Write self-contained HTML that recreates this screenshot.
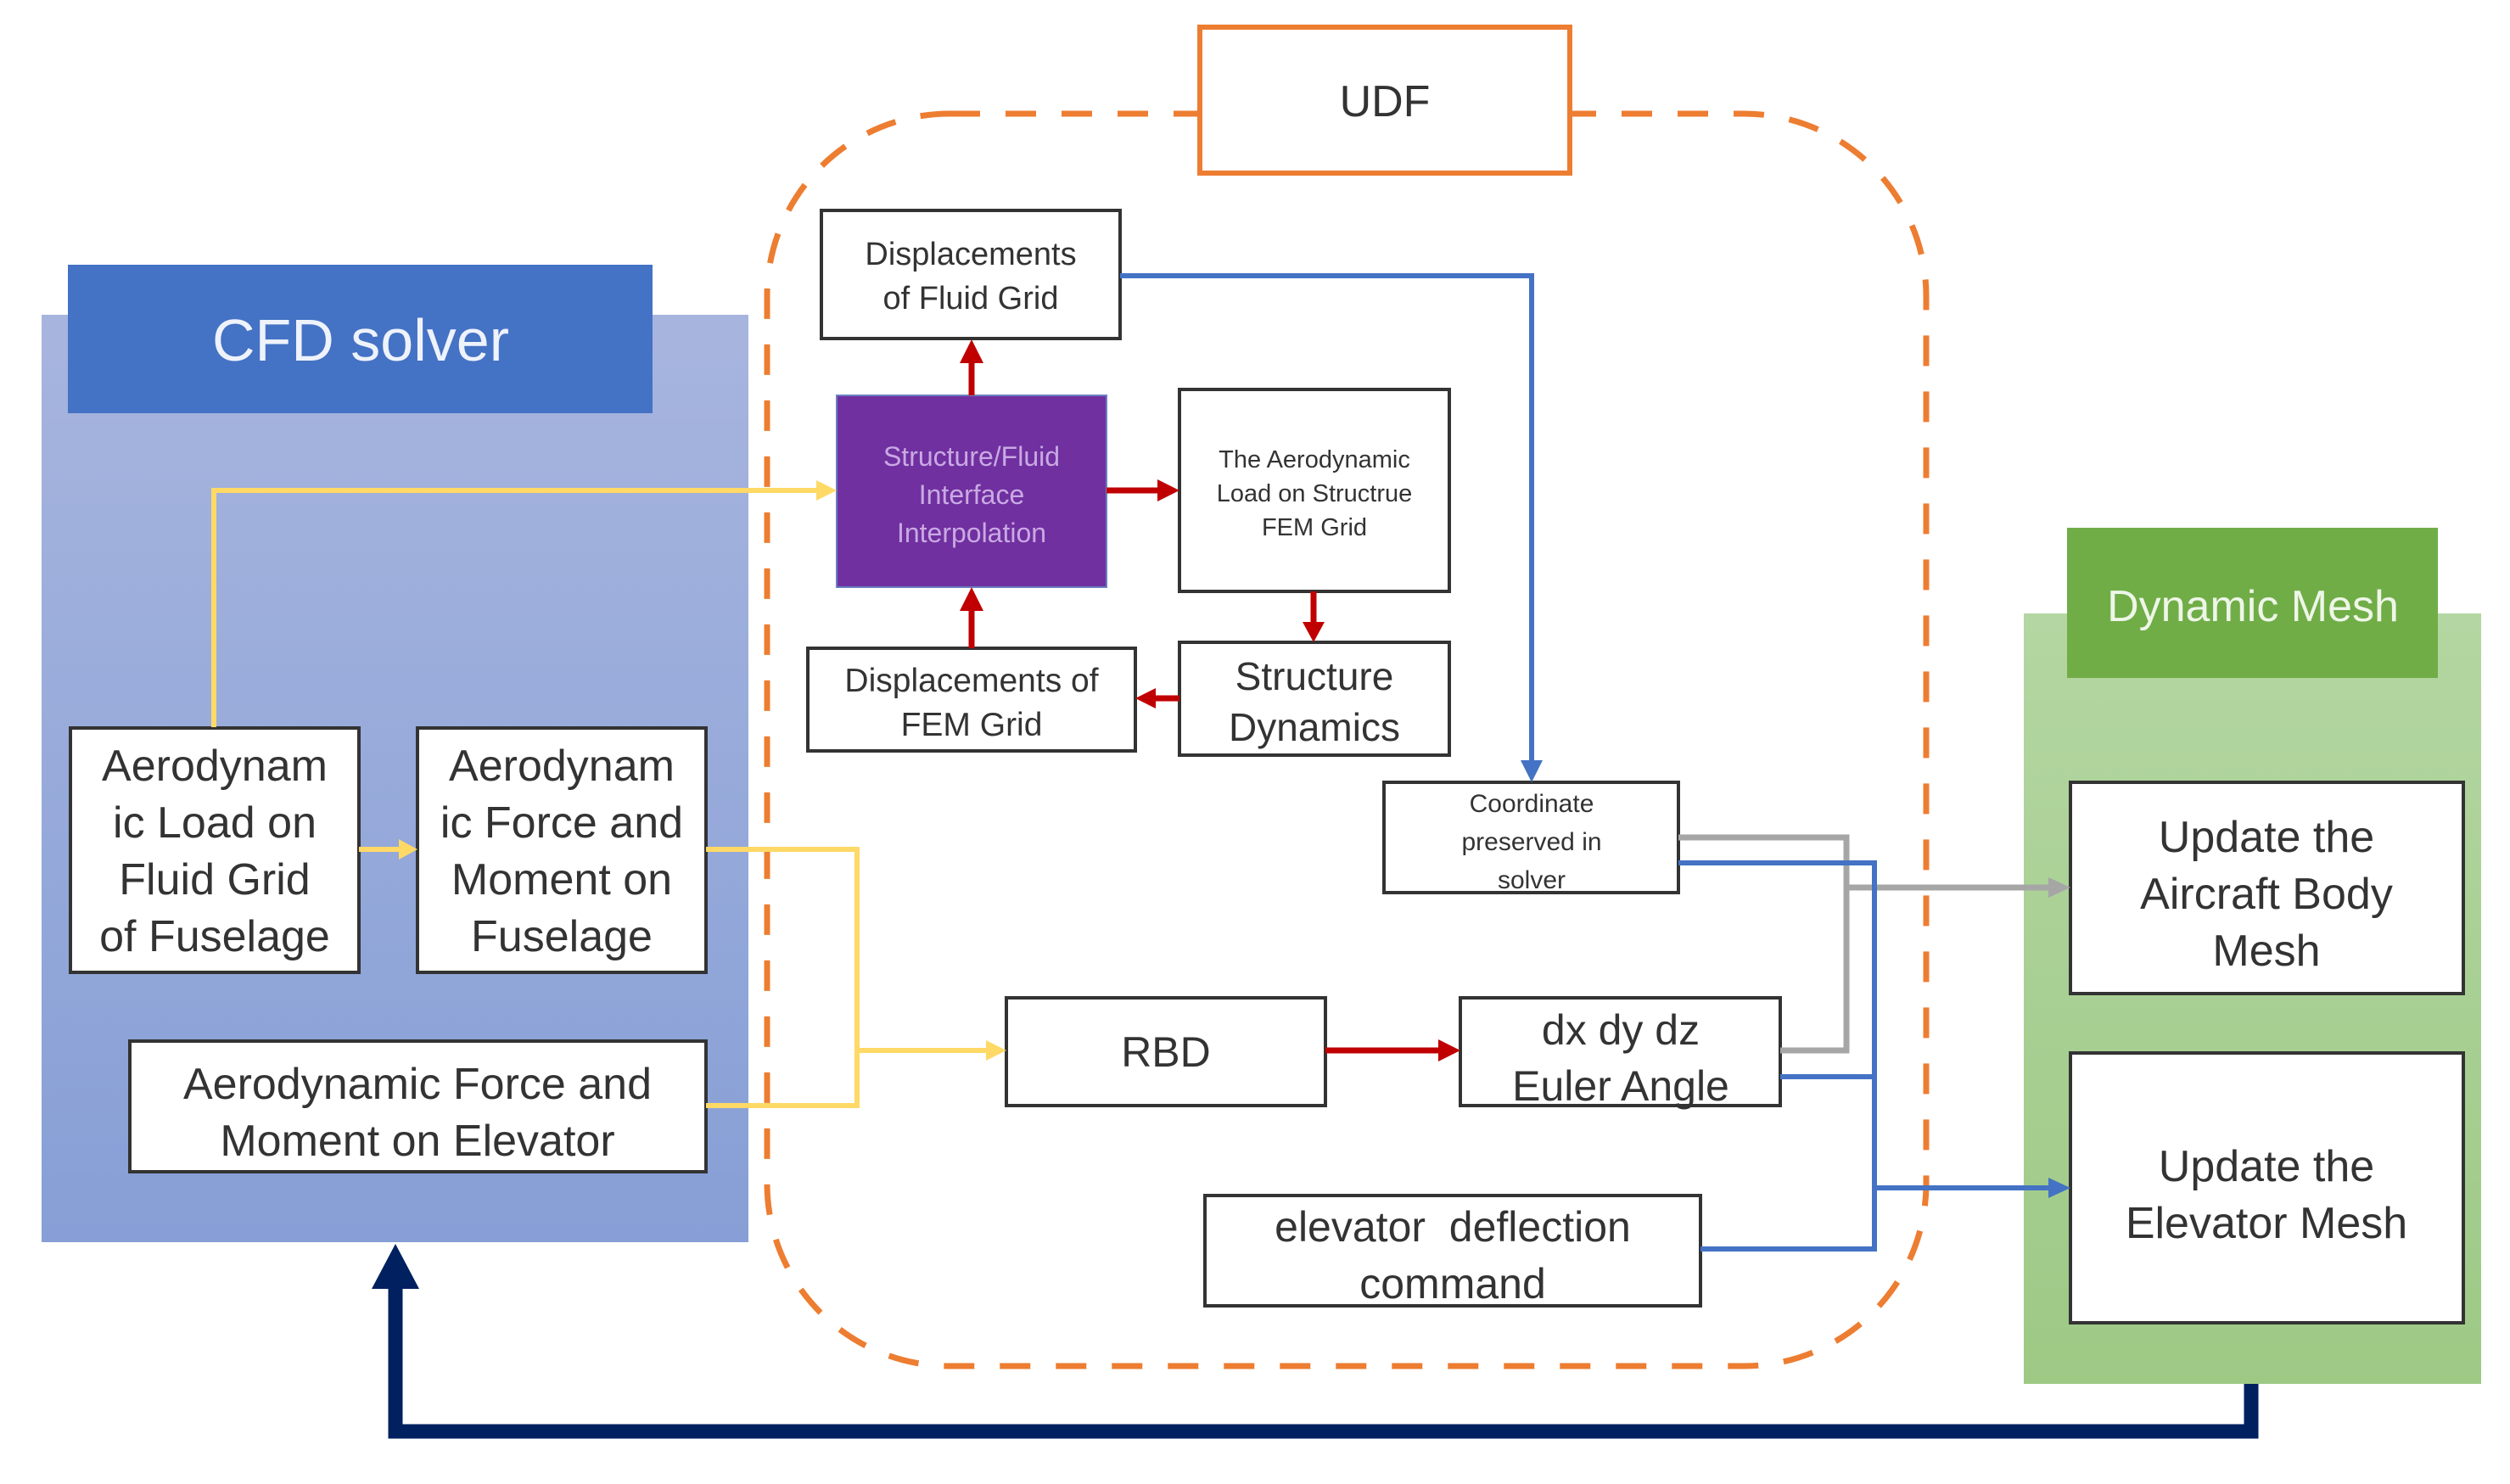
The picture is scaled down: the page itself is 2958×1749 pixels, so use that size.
<!DOCTYPE html>
<html><head><meta charset="utf-8"><style>
html,body{margin:0;padding:0;background:#fff;}
svg{display:block;}
text{font-family:"Liberation Sans",sans-serif;}
</style></head><body>
<svg width="2958" height="1749" viewBox="0 0 2958 1749" xmlns="http://www.w3.org/2000/svg">
<defs>
<linearGradient id="gb" x1="0" y1="0" x2="0" y2="1"><stop offset="0" stop-color="#a7b5de"/><stop offset="1" stop-color="#879fd6"/></linearGradient>
<linearGradient id="gg" x1="0" y1="0" x2="0" y2="1"><stop offset="0" stop-color="#b4d6a2"/><stop offset="1" stop-color="#9dc985"/></linearGradient>
</defs>
<!-- CFD -->
<rect x="49" y="371" width="833" height="1093" fill="url(#gb)"/>
<rect x="80" y="312" width="689" height="175" fill="#4472c4"/>
<text x="425" y="425" font-size="70" fill="#eef2fb" text-anchor="middle">CFD solver</text>
<!-- Dynamic mesh -->
<rect x="2385" y="723" width="539" height="908" fill="url(#gg)"/>
<rect x="2436" y="622" width="437" height="177" fill="#70ad47"/>
<text x="2655" y="732" font-size="52" fill="#eef6e8" text-anchor="middle">Dynamic Mesh</text>
<!-- dashed UDF region -->
<rect x="904" y="134" width="1366" height="1476" rx="215" ry="215" fill="none" stroke="#ed7d31" stroke-width="7" stroke-dasharray="36 30"/>
<rect x="1414" y="32" width="436" height="172" fill="#fff" stroke="#ed7d31" stroke-width="6"/>
<text x="1632" y="137" font-size="52" fill="#333" text-anchor="middle">UDF</text>

<g stroke="#333" stroke-width="4" fill="#fff">
<rect x="968" y="248" width="352" height="151"/>
<rect x="1390" y="459" width="318" height="238"/>
<rect x="1390" y="757" width="318" height="133"/>
<rect x="952" y="764" width="386" height="121"/>
<rect x="1631" y="922" width="347" height="130"/>
<rect x="1186" y="1176" width="376" height="127"/>
<rect x="1721" y="1176" width="377" height="127"/>
<rect x="1420" y="1409" width="584" height="130"/>
<rect x="83" y="858" width="340" height="288"/>
<rect x="492" y="858" width="340" height="288"/>
<rect x="153" y="1227" width="679" height="154"/>
<rect x="2440" y="922" width="463" height="249"/>
<rect x="2440" y="1241" width="463" height="318"/>
</g>
<rect x="986" y="466" width="318" height="226" fill="#7030a0" stroke="#6a7fbf" stroke-width="2"/>

<!-- connectors -->
<g fill="none" stroke-linejoin="miter">
<polyline points="252,857 252,578 965,578" stroke="#ffd966" stroke-width="6"/>
<line x1="423" y1="1001" x2="475" y2="1001" stroke="#ffd966" stroke-width="6"/>
<polyline points="832,1001 1010,1001 1010,1303 832,1303" stroke="#ffd966" stroke-width="6"/>
<line x1="1010" y1="1238" x2="1165" y2="1238" stroke="#ffd966" stroke-width="6"/>
<line x1="1145" y1="466" x2="1145" y2="420" stroke="#c00000" stroke-width="7"/>
<line x1="1145" y1="764" x2="1145" y2="712" stroke="#c00000" stroke-width="7"/>
<line x1="1304" y1="578" x2="1370" y2="578" stroke="#c00000" stroke-width="7"/>
<line x1="1548" y1="697" x2="1548" y2="738" stroke="#c00000" stroke-width="7"/>
<line x1="1390" y1="823" x2="1358" y2="823" stroke="#c00000" stroke-width="7"/>
<line x1="1562" y1="1238" x2="1700" y2="1238" stroke="#c00000" stroke-width="7"/>
<polyline points="1320,325 1805,325 1805,900" stroke="#4472c4" stroke-width="6"/>
<polyline points="1978,987 2176,987 2176,1238 2098,1238" stroke="#a6a6a6" stroke-width="7"/>
<line x1="2176" y1="1046" x2="2420" y2="1046" stroke="#a6a6a6" stroke-width="7"/>
<polyline points="1978,1017 2209,1017 2209,1472 2004,1472" stroke="#4472c4" stroke-width="6"/>
<line x1="2098" y1="1269" x2="2209" y2="1269" stroke="#4472c4" stroke-width="6"/>
<line x1="2209" y1="1400" x2="2420" y2="1400" stroke="#4472c4" stroke-width="6"/>
<polyline points="2653,1631 2653,1687 466,1687 466,1510" stroke="#002060" stroke-width="17"/>
</g>
<g>
<polygon points="986,578 962,566 962,590" fill="#ffd966"/>
<polygon points="492,1001 470,989 470,1013" fill="#ffd966"/>
<polygon points="1186,1238 1162,1226 1162,1250" fill="#ffd966"/>
<polygon points="1145,400 1131,428 1159,428" fill="#c00000"/>
<polygon points="1145,692 1131,720 1159,720" fill="#c00000"/>
<polygon points="1390,578 1364,565 1364,591" fill="#c00000"/>
<polygon points="1548,757 1535,733 1561,733" fill="#c00000"/>
<polygon points="1338,823 1362,811 1362,835" fill="#c00000"/>
<polygon points="1721,1238 1695,1225 1695,1251" fill="#c00000"/>
<polygon points="1805,922 1792,896 1818,896" fill="#4472c4"/>
<polygon points="2440,1046 2414,1034 2414,1058" fill="#a6a6a6"/>
<polygon points="2440,1400 2414,1388 2414,1412" fill="#4472c4"/>
<polygon points="466,1466 438,1519 494,1519" fill="#002060"/>
</g>

<!-- labels -->
<g fill="#333" text-anchor="middle">
<text x="1144" y="312" font-size="38">Displacements</text>
<text x="1144" y="364" font-size="38">of Fluid Grid</text>
<text x="1145" y="549" font-size="32" fill="#c9a9e3">Structure/Fluid</text>
<text x="1145" y="594" font-size="32" fill="#c9a9e3">Interface</text>
<text x="1145" y="639" font-size="32" fill="#c9a9e3">Interpolation</text>
<text x="1549" y="551" font-size="29">The Aerodynamic</text>
<text x="1549" y="591" font-size="29">Load on Structrue</text>
<text x="1549" y="631" font-size="29">FEM Grid</text>
<text x="1549" y="813" font-size="46">Structure</text>
<text x="1549" y="873" font-size="46">Dynamics</text>
<text x="1145" y="815" font-size="39">Displacements of</text>
<text x="1145" y="867" font-size="39">FEM Grid</text>
<text x="1805" y="957" font-size="30">Coordinate</text>
<text x="1805" y="1002" font-size="30">preserved in</text>
<text x="1805" y="1047" font-size="30">solver</text>
<text x="1374" y="1257" font-size="50">RBD</text>
<text x="1910" y="1231" font-size="50">dx dy dz</text>
<text x="1910" y="1297" font-size="50">Euler Angle</text>
<text x="1712" y="1463" font-size="50" xml:space="preserve">elevator  deflection</text>
<text x="1712" y="1530" font-size="50">command</text>
<text x="253" y="920" font-size="52">Aerodynam</text>
<text x="253" y="987" font-size="52">ic Load on</text>
<text x="253" y="1054" font-size="52">Fluid Grid</text>
<text x="253" y="1121" font-size="52">of Fuselage</text>
<text x="662" y="920" font-size="52">Aerodynam</text>
<text x="662" y="987" font-size="52">ic Force and</text>
<text x="662" y="1054" font-size="52">Moment on</text>
<text x="662" y="1121" font-size="52">Fuselage</text>
<text x="492" y="1295" font-size="52">Aerodynamic Force and</text>
<text x="492" y="1362" font-size="52">Moment on Elevator</text>
<text x="2671" y="1004" font-size="52">Update the</text>
<text x="2671" y="1071" font-size="52">Aircraft Body</text>
<text x="2671" y="1138" font-size="52">Mesh</text>
<text x="2671" y="1392" font-size="52">Update the</text>
<text x="2671" y="1459" font-size="52">Elevator Mesh</text>
</g>
</svg>
</body></html>
